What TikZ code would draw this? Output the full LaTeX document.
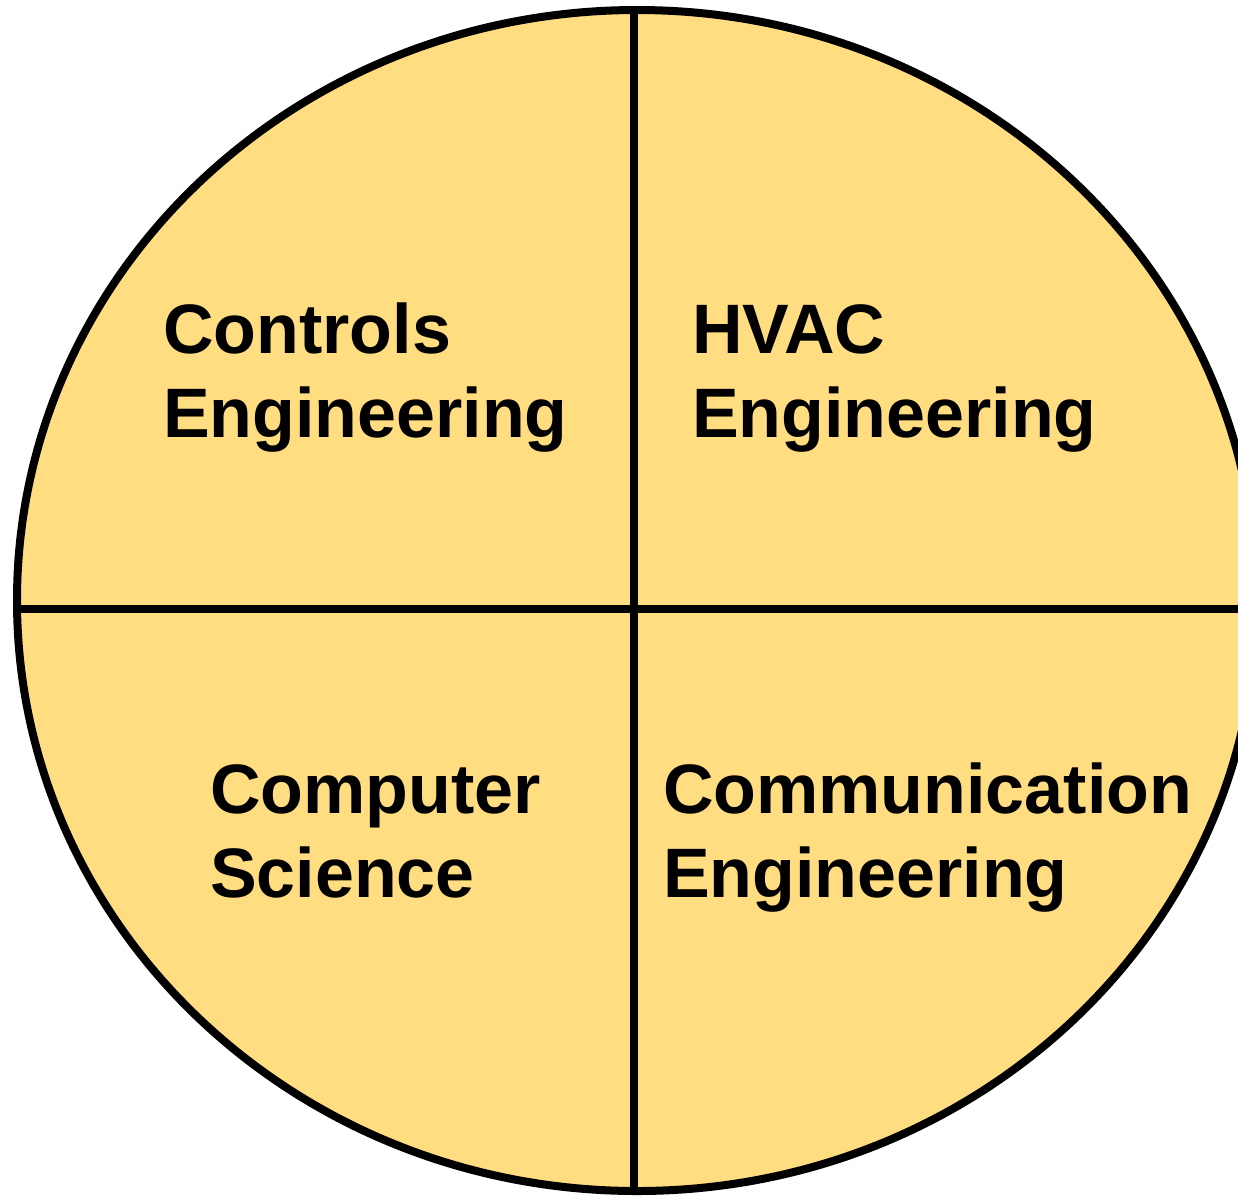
\documentclass[tikz,border=0pt]{standalone}
\usepackage{fontspec}
\setmainfont{Liberation Sans}
\definecolor{sand}{HTML}{FFDD80}
\begin{document}
\begin{tikzpicture}[x=1pt,y=-1pt,
  ring/.style={line width=8pt, draw=black},
  divider/.style={line width=8pt, draw=black},
  field/.style={anchor=base west, inner sep=0pt, align=left,
    font=\fontsize{70}{84}\selectfont\bfseries}]
  \useasboundingbox (0,0) rectangle (1238,1195);
  % disc and its quadrant dividers
  \fill[sand] (637,600.5) ellipse [x radius=620, y radius=590.5];
  \begin{scope}
    \clip (637,600.5) ellipse [x radius=620, y radius=590.5];
    \coordinate (top) at (634,0);
    \coordinate (bottom) at (634,1200);
    \coordinate (left) at (0,609);
    \coordinate (right) at (1260,609);
    \draw[divider] (top) -- (bottom);
    \draw[divider] (left) -- (right);
  \end{scope}
  \draw[ring] (637,600.5) ellipse [x radius=620, y radius=590.5];
  % quadrant labels (anchored at the baseline of their last line)
  \node[field] (controls) at (163,437) {Controls\\Engineering};
  \node[field] (hvac) at (692,437) {HVAC\\Engineering};
  \node[field] (cs) at (210,897) {Computer\\Science};
  \node[field] (comm) at (663,897) {Communication\\Engineering};
\end{tikzpicture}
\end{document}
